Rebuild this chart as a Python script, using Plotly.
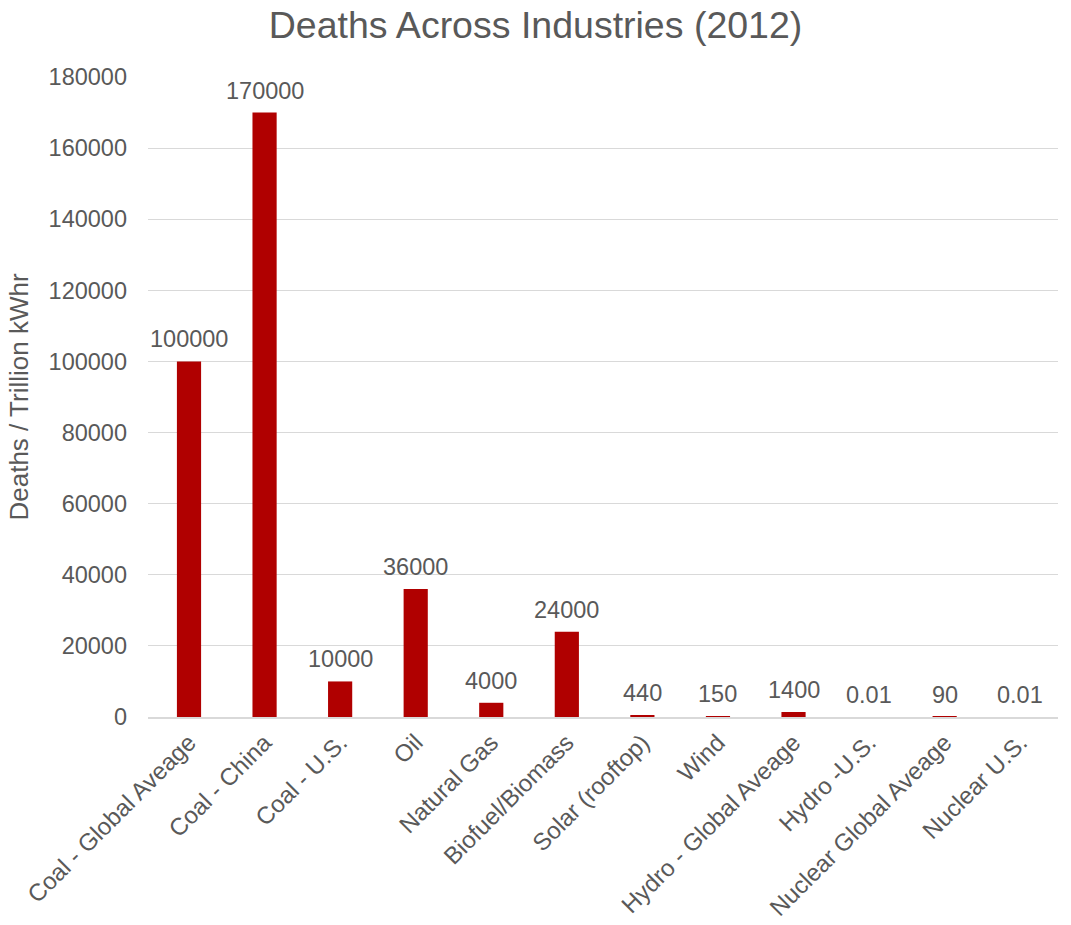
import plotly.graph_objects as go

categories = ["Coal - Global Aveage", "Coal - China", "Coal - U.S.", "Oil", "Natural Gas",
              "Biofuel/Biomass", "Solar (rooftop)", "Wind", "Hydro - Global Aveage",
              "Hydro -U.S.", "Nuclear Global Aveage", "Nuclear U.S."]
values = [100000, 170000, 10000, 36000, 4000, 24000, 440, 150, 1400, 0.01, 90, 0.01]
labels = ["100000", "170000", "10000", "36000", "4000", "24000", "440", "150", "1400", "0.01", "90", "0.01"]
y_ticks = list(range(0, 180001, 20000))

font = "Liberation Sans, Arial, sans-serif"
grey = "#595959"

fig = go.Figure(go.Bar(
    x=categories, y=values,
    marker=dict(color="#B00000", line=dict(width=0)),
))

for c, v, t in zip(categories, values, labels):
    fig.add_annotation(x=c, y=v, text=t, showarrow=False, yanchor="bottom", yshift=7,
                       font=dict(family=font, size=23.5, color=grey))

fig.update_layout(
    width=1071, height=925,
    margin=dict(l=148, r=13, t=77, b=208),
    paper_bgcolor="white", plot_bgcolor="white",
    bargap=0.68,
    title=dict(text="Deaths Across Industries (2012)", x=0.5, xanchor="center",
               y=0.973, yanchor="middle",
               font=dict(family=font, size=37.5, color=grey)),
    font=dict(family=font, color=grey),
    showlegend=False,
)
fig.update_yaxes(
    range=[0, 180000], tickvals=y_ticks, ticktext=[str(v) for v in y_ticks],
    showgrid=True, gridcolor="#D9D9D9", gridwidth=1.3, zeroline=False,
    tickfont=dict(family=font, size=23.5, color=grey), ticklabelstandoff=20,
    title=dict(text="Deaths / Trillion kWhr", font=dict(family=font, size=26, color=grey), standoff=12),
    automargin=False,
)
fig.update_xaxes(
    tickangle=-45, tickfont=dict(family=font, size=24, color=grey),
    showline=True, linecolor="#D9D9D9", linewidth=2, ticks="",
    automargin=False,
)

fig.write_html("out.html")
